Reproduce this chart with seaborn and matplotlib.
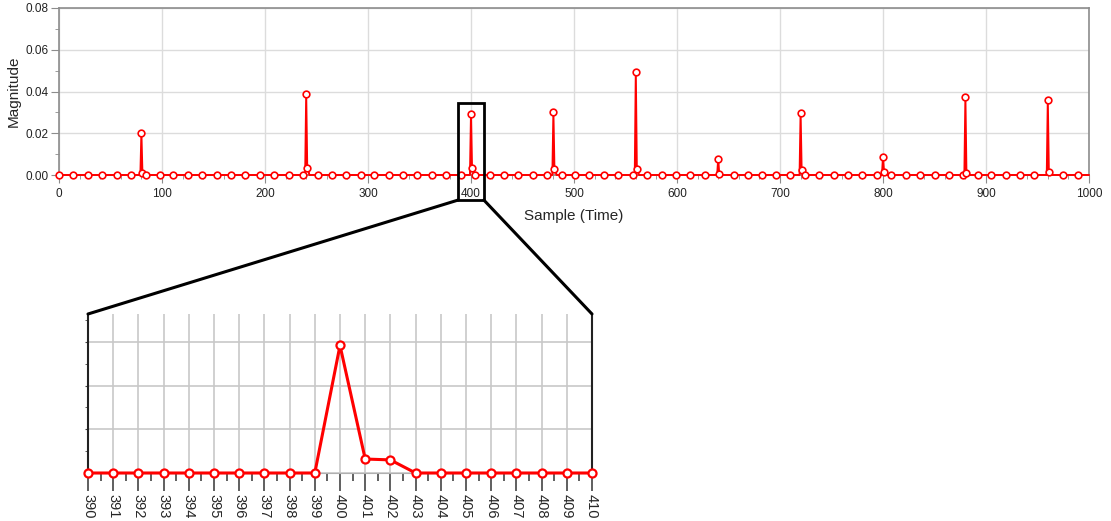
import numpy as np
import pandas as pd
import matplotlib.pyplot as plt
import seaborn as sns
from matplotlib.patches import Rectangle, ConnectionPatch
from matplotlib.ticker import MultipleLocator

# spike positions and heights
peak_samples = [80, 240, 400, 480, 560, 640, 720, 800, 880, 960]
peak_values = [0.0200, 0.0388, 0.0292, 0.0300, 0.0493, 0.0078, 0.0297, 0.0088, 0.0372, 0.0358]
after1_values = [0.0008, 0.0032, 0.0032, 0.0029, 0.0030, 0.0005, 0.0024, 0.0016, 0.0010, 0.0016]
after2_values = [0.0006, 0.0028, 0.0030, 0.0025, 0.0026, 0.0004, 0.0020, 0.0012, 0.0008, 0.0012]

n_samples = 1001
zoom_start, zoom_end = 390, 410

magnitude = np.zeros(n_samples)
magnitude[peak_samples] = peak_values
magnitude[np.array(peak_samples) + 1] = after1_values
magnitude[np.array(peak_samples) + 2] = after2_values
df = pd.DataFrame({"sample": np.arange(n_samples), "magnitude": magnitude})

sns.set_style("white")
plt.rcParams["font.family"] = ["Liberation Sans", "DejaVu Sans"]

red = "#ff0000"
grey_spine = "#8c8c8c"

fig = plt.figure(figsize=(11.11, 5.21), dpi=100)

# main chart
ax = fig.add_axes([59 / 1111, 1 - 175 / 521, 1030 / 1111, 167 / 521])
marks = sorted(set(np.round(np.arange(0, n_samples, 13.93)).astype(int))
               | set(peak_samples) | set(np.array(peak_samples) + 1))
sns.lineplot(data=df, x="sample", y="magnitude", ax=ax, color=red, lw=1.4,
             marker="o", markersize=4.8, markerfacecolor="white",
             markeredgecolor=red, markeredgewidth=1.2, markevery=marks,
             clip_on=False, zorder=3)
ax.set_xlim(0, 1000)
ax.set_ylim(0, 0.08)
ax.xaxis.set_major_locator(MultipleLocator(100))
ax.xaxis.set_minor_locator(MultipleLocator(20))
ax.yaxis.set_major_locator(MultipleLocator(0.02))
ax.yaxis.set_minor_locator(MultipleLocator(0.01))
ax.yaxis.set_major_formatter(plt.FormatStrFormatter("%.2f"))
ax.grid(True, which="major", color="#dcdcdc", lw=1)
ax.tick_params(which="both", direction="out", colors=grey_spine, labelcolor="#222222",
               labelsize=8.5, bottom=True, left=True)
ax.tick_params(which="major", length=6)
ax.tick_params(which="minor", length=3)
ax.tick_params(axis="y", which="major", pad=1.5)
for s in ax.spines.values():
    s.set_color(grey_spine)
    s.set_linewidth(1.2)
ax.set_xlabel("Sample (Time)", fontsize=11, labelpad=6)
ax.set_ylabel("Magnitude", fontsize=11)
ax.yaxis.set_label_coords(-0.037, 0.5)

# zoom box
ax.add_patch(Rectangle((387.5, -0.012), 25, 0.0465, fill=False, ec="black",
                       lw=2, clip_on=False, zorder=5))

# inset
axin = fig.add_axes([88 / 1111, 1 - 473 / 521, 504 / 1111, 159 / 521])
sub = df[(df["sample"] >= zoom_start) & (df["sample"] <= zoom_end)]
sns.lineplot(data=sub, x="sample", y="magnitude", ax=axin, color=red, lw=2.2,
             marker="o", markersize=5.8, markerfacecolor="white",
             markeredgecolor=red, markeredgewidth=1.6, clip_on=False, zorder=3)
axin.set_xlim(zoom_start, zoom_end)
axin.set_ylim(0, 0.0364)
axin.xaxis.set_major_locator(MultipleLocator(1))
axin.xaxis.set_minor_locator(MultipleLocator(0.5))
axin.yaxis.set_major_locator(MultipleLocator(0.01))
axin.yaxis.set_minor_locator(MultipleLocator(0.005))
axin.grid(True, which="major", color="#c8c8c8", lw=1.2)
axin.set_xlabel("")
axin.set_ylabel("")
axin.set_yticklabels([])
axin.tick_params(axis="y", which="both", direction="out", length=2, color="#444444", left=True)
axin.tick_params(axis="x", which="major", direction="out", length=13, width=1.2,
                 color="#444444", labelsize=10.5, labelrotation=-90, bottom=True, pad=2)
axin.tick_params(axis="x", which="minor", direction="out", length=6, width=1.2,
                 color="#444444", bottom=True)
axin.spines["top"].set_visible(False)
axin.spines["bottom"].set_color("#b0b0b0")
axin.spines["left"].set_color("#222222")
axin.spines["right"].set_color("#222222")
axin.spines["left"].set_linewidth(1.5)
axin.spines["right"].set_linewidth(1.5)

# connector lines
for x0, x1 in [(387.5, zoom_start), (412.5, zoom_end)]:
    con = ConnectionPatch(xyA=(x0, -0.012), coordsA=ax.transData,
                          xyB=(x1, 0.0364), coordsB=axin.transData,
                          color="black", lw=2.2)
    fig.add_artist(con)

fig.savefig("out.png", dpi=100)
